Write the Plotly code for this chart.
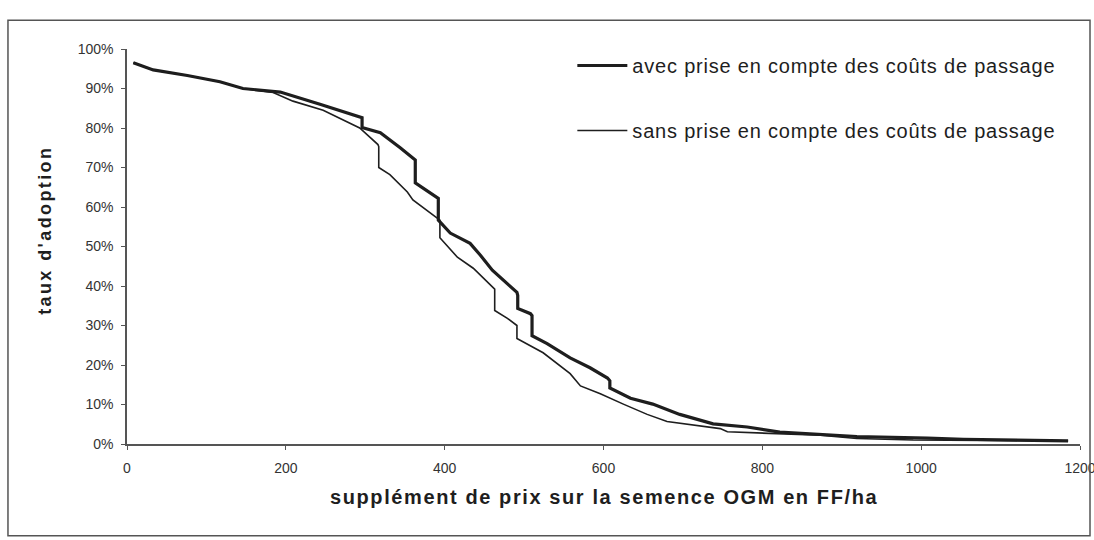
import plotly.graph_objects as go

# ---- data ----
avec_x = [8, 33, 76, 117, 146, 184, 193, 243, 290, 296, 296, 319, 344, 363, 363, 392, 392, 407, 432,
          445, 460, 474, 491, 492, 492, 508, 510, 510, 529, 558, 583, 605, 608, 608, 634, 662, 696,
          738, 781, 822, 877, 919, 1008, 1053, 1185]
avec_y = [96.5, 94.7, 93.3, 91.7, 90.0, 89.4, 89.1, 86.0, 82.9, 82.6, 80.1, 78.8, 75.0, 71.9, 66.1,
          62.2, 56.7, 53.4, 50.8, 47.8, 44.0, 41.4, 38.4, 37.6, 34.3, 33.0, 32.5, 27.4, 25.4, 21.8,
          19.3, 16.7, 16.0, 14.2, 11.6, 10.1, 7.5, 5.1, 4.3, 3.0, 2.4, 1.9, 1.5, 1.2, 0.8]

sans_x = [8, 33, 76, 117, 146, 184, 209, 247, 293, 316, 317, 317, 331, 353, 360, 394, 394, 416, 436,
          461, 463, 463, 479, 491, 491, 524, 558, 571, 596, 625, 655, 680, 713, 747, 756, 797, 873,
          919, 990, 1185]
sans_y = [96.5, 94.7, 93.3, 91.7, 90.0, 89.0, 86.8, 84.5, 80.0, 75.8, 75.3, 70.0, 68.2, 63.8, 61.8,
          56.7, 52.2, 47.3, 44.5, 39.4, 39.2, 33.8, 31.8, 30.0, 26.7, 23.1, 17.8, 14.7, 12.7, 10.1,
          7.5, 5.7, 4.9, 3.9, 3.1, 2.8, 2.2, 1.4, 1.0, 0.8]

series_names = ["avec prise en compte des coûts de passage",
                "sans prise en compte des coûts de passage"]
x_ticks = [0, 200, 400, 600, 800, 1000, 1200]
y_ticks = [0, 0.1, 0.2, 0.3, 0.4, 0.5, 0.6, 0.7, 0.8, 0.9, 1.0]
x_title = "supplément de prix sur la semence OGM en FF/ha"
y_title = "taux d'adoption"

FONT = "Liberation Sans, Arial, sans-serif"
INK = "#1e1e1e"

fig = go.Figure()
fig.add_trace(go.Scatter(
    x=avec_x, y=[v / 100 for v in avec_y], mode="lines",
    name='<span style="letter-spacing:0.8px">' + series_names[0] + "</span>",
    line=dict(color=INK, width=3.2), legendgroup="a"))
fig.add_trace(go.Scatter(
    x=sans_x, y=[v / 100 for v in sans_y], mode="lines",
    name='<span style="letter-spacing:0.8px">' + series_names[1] + "</span>",
    line=dict(color=INK, width=1.6), legendgroup="b"))

fig.update_layout(
    width=1094, height=540,
    margin=dict(l=127, r=14, t=49, b=96, autoexpand=False),
    paper_bgcolor="white", plot_bgcolor="white",
    font=dict(family=FONT, color=INK),
    showlegend=True,
    legend=dict(x=0.4673, y=1.0076, xanchor="left", yanchor="top",
                font=dict(size=20, family=FONT, color=INK),
                bgcolor="rgba(0,0,0,0)", tracegroupgap=36, itemwidth=50,
                traceorder="grouped"),
    xaxis=dict(range=[0, 1200], tickvals=x_ticks, showgrid=False, zeroline=False,
               showline=True, linecolor="#555", linewidth=1.5, automargin=False,
               ticks="outside", ticklen=4, tickcolor="#555", tickwidth=1.2,
               ticklabelstandoff=6, ticklabeloverflow="allow",
               tickfont=dict(size=14, family=FONT, color="#333")),
    yaxis=dict(range=[0, 1], tickvals=y_ticks, tickformat=".0%", showgrid=False,
               zeroline=False, showline=True, linecolor="#555", linewidth=1.5,
               automargin=False,
               ticks="outside", ticklen=4, tickcolor="#555", tickwidth=1.2,
               ticklabelstandoff=5,
               tickfont=dict(size=14, family=FONT, color="#333")),
    annotations=[
        dict(text='<b><span style="letter-spacing:1.6px">' + x_title + "</span></b>",
             xref="paper", yref="paper", x=0.5, y=-0.134, xanchor="center", yanchor="middle",
             showarrow=False, font=dict(size=20, family=FONT, color=INK)),
        dict(text='<b><span style="letter-spacing:2.4px">' + y_title + "</span></b>",
             xref="paper", yref="paper", x=-0.0861, y=0.542, xanchor="center", yanchor="middle",
             textangle=-90, showarrow=False, font=dict(size=18, family=FONT, color=INK)),
    ],
    shapes=[dict(type="rect", xref="paper", yref="paper",
                 x0=-0.1249, x1=1.0105, y0=-0.232, y1=1.073,
                 line=dict(color="#555", width=1.5))],
)

fig.write_html("out.html", config={"displayModeBar": False},
               post_script="document.body.style.margin='0';document.body.style.overflow='hidden';")
